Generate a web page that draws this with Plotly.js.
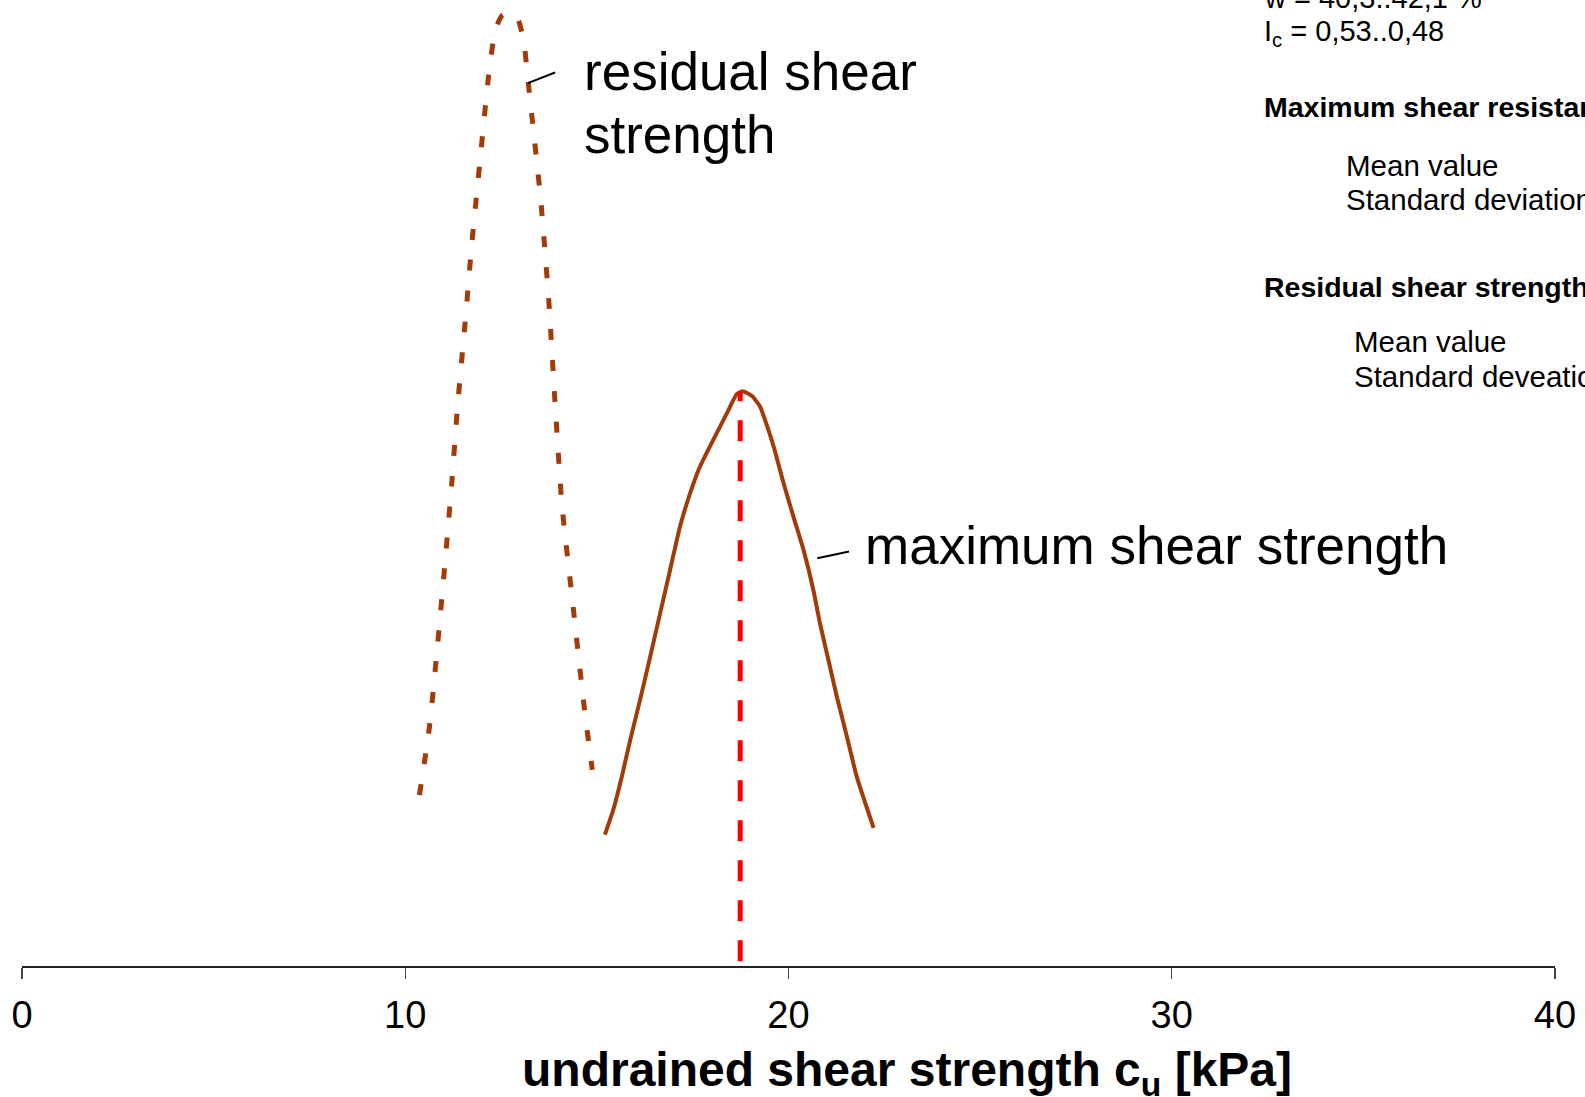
<!DOCTYPE html>
<html>
<head>
<meta charset="utf-8">
<script src="https://cdn.plot.ly/plotly-3.0.1.min.js"></script>
<style>html,body{margin:0;padding:0;background:#fff;overflow:hidden}#chart{width:1585px;height:1097px}</style>
</head>
<body>
<div id="chart"></div>
<script>
// Maximum shear strength distribution (solid)
const maxX = [15.21, 15.43, 15.65, 15.87, 16.13, 16.39, 16.65, 16.91, 17.17, 17.43, 17.69, 18.04, 18.39, 18.65, 18.81, 19.05, 19.26, 19.39, 19.61, 19.87, 20.13, 20.39, 20.65, 20.82, 21.04, 21.26, 21.52, 21.78, 22.00, 22.22];
const maxY = [13.6, 16.2, 19.6, 23.4, 27.6, 32.0, 36.5, 41.0, 45.5, 48.9, 51.7, 54.5, 57.2, 59.2, 59.5, 59.0, 57.9, 56.5, 53.8, 50.0, 46.5, 43.1, 38.9, 35.5, 31.7, 27.9, 23.8, 19.6, 16.9, 14.3];
// Residual shear strength distribution (dotted)
const resX = [10.37, 10.63, 10.84, 11.03, 11.21, 11.37, 11.56, 11.74, 11.95, 12.16, 12.35, 12.53, 12.74, 12.93, 13.09, 13.19, 13.32, 13.54, 13.75, 13.91, 14.09, 14.38, 14.67, 14.88];
const resY = [17.7, 24.7, 33.1, 41.4, 49.8, 58.2, 66.5, 74.9, 83.3, 91.6, 96.9, 98.4, 98.7, 98.1, 95.8, 92.2, 87.4, 79.1, 68.6, 58.2, 47.7, 37.2, 26.8, 20.3];
// Mean value of maximum shear strength (red dashed)
const meanX = [18.74, 18.74];
const meanY = [0.5, 59.5];
const tickVals = [0, 10, 20, 30, 40];
const tickText = ['0', '10', '20', '30', '40'];

const brown = '#A23B08';
const FONT = 'Liberation Sans, Arial, sans-serif';

const traces = [
  {x: resX, y: resY, mode: 'lines', line: {color: brown, width: 5, dash: '11px,20px', shape: 'spline', smoothing: 0.6}, hoverinfo: 'skip'},
  {x: maxX, y: maxY, mode: 'lines', line: {color: brown, width: 4, shape: 'spline', smoothing: 0.5}, hoverinfo: 'skip'},
  {x: meanX, y: meanY, mode: 'lines', line: {color: '#FF0000', width: 5, dash: '21px,19px'}, hoverinfo: 'skip'}
];

const txt = (x, y, text, size, bold, extra) => Object.assign({
  x: x, y: y, xref: 'x', yref: 'y', text: bold ? '<b>' + text + '</b>' : text,
  showarrow: false, xanchor: 'left', yanchor: 'middle', align: 'left',
  font: {family: FONT, size: size, color: '#000'}
}, extra || {});

const annotations = [
  txt(14.62, 92.6, 'residual shear', 53, false),
  txt(14.62, 86.1, 'strength', 53, false),
  txt(21.95, 43.5, 'maximum shear strength', 53, false),
  txt(32.36, 96.6, 'w = 40,3..42,1 %', 29, false, {yshift: 35}),
  txt(32.36, 96.6, 'I<sub>c</sub> = 0,53..0,48', 29, false),
  txt(32.36, 88.9, 'Maximum shear resistance', 28.5, true),
  txt(34.50, 82.9, 'Mean value', 29.5, false),
  txt(34.50, 79.3, 'Standard deviation', 29.5, false),
  txt(32.36, 70.3, 'Residual shear strength', 28.5, true),
  txt(34.71, 64.6, 'Mean value', 29.5, false),
  txt(34.71, 61.0, 'Standard deveation', 29.5, false),
  {x: 0.577, y: -0.111, xref: 'paper', yref: 'paper', xanchor: 'center', yanchor: 'middle',
   showarrow: false, text: '<b>undrained shear strength c<sub>u</sub> [kPa]</b>',
   font: {family: FONT, size: 48, color: '#000'}}
];

const shapes = [
  {type: 'line', xref: 'x', yref: 'y', x0: 13.20, y0: 91.4, x1: 13.91, y1: 92.5, line: {color: '#000', width: 2}},
  {type: 'line', xref: 'x', yref: 'y', x0: 20.75, y0: 42.2, x1: 21.58, y1: 42.9, line: {color: '#000', width: 2}}
];

const layout = {
  width: 1585, height: 1097,
  margin: {l: 22, r: 30, t: 0, b: 131},
  paper_bgcolor: '#fff', plot_bgcolor: '#fff',
  showlegend: false,
  xaxis: {
    range: [0, 40], tickvals: tickVals, ticktext: tickText,
    showgrid: false, zeroline: false, showline: true, linecolor: '#222', linewidth: 1.5,
    ticks: 'outside', ticklen: 11, tickwidth: 1.2, tickcolor: '#444',
    ticklabelstandoff: 4,
    tickfont: {family: FONT, size: 38, color: '#000'},
    fixedrange: true
  },
  yaxis: {range: [0, 100], visible: false, showgrid: false, zeroline: false, fixedrange: true},
  annotations: annotations,
  shapes: shapes
};

Plotly.newPlot('chart', traces, layout, {displayModeBar: false, staticPlot: true});
</script>
</body>
</html>
